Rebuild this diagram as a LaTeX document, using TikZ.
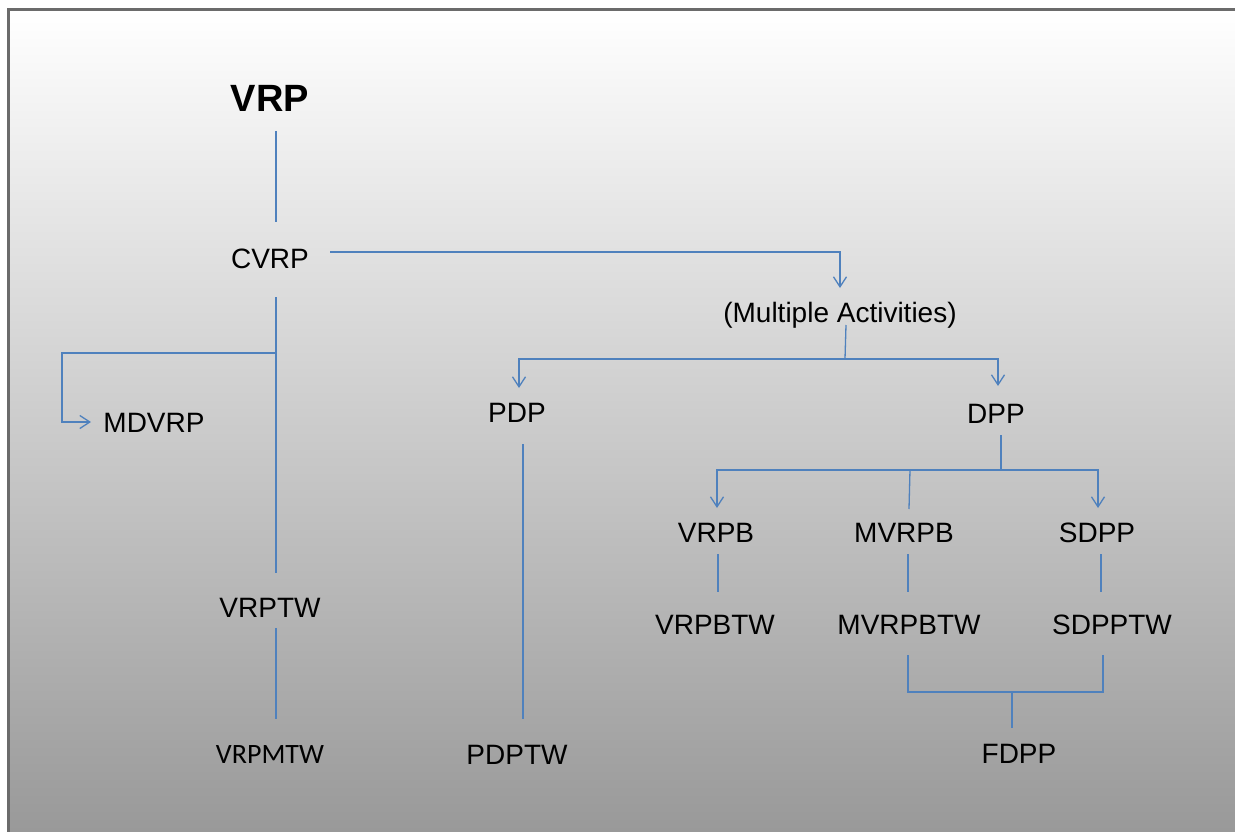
\documentclass[tikz,border=0pt]{standalone}
\usepackage{fontspec}
\setmainfont{Liberation Sans}
\newfontfamily\calfont{Carlito}
\usetikzlibrary{arrows.meta,calc}
\definecolor{linkblue}{HTML}{4F81BD}
\definecolor{framegray}{HTML}{6B6B6B}
\definecolor{shadelow}{HTML}{999999}
\definecolor{shademid}{HTML}{D7D7D7}
\tikzset{
  lbl/.style={anchor=base, inner sep=0pt, font=\fontsize{28}{34}\selectfont},
  title/.style={anchor=base, inner sep=0pt, font=\fontsize{38}{44}\selectfont\bfseries},
  small/.style={anchor=base, inner sep=0pt, font=\calfont\fontsize{28}{34}\selectfont},
  link/.style={draw=linkblue, line width=1.3pt},
  arr/.style={link, -{Straight Barb[length=10pt,width=13pt,line width=1.3pt]}}
}
\begin{document}
\begin{tikzpicture}[x=1pt,y=-1pt]
  \useasboundingbox (0,0) rectangle (1235,832);
  \clip (0,0) rectangle (1235,832);
  \fill[white] (0,0) rectangle (1235,832);
  % shaded panel with its frame (right and bottom edges run off the page)
  \shade[top color=white, middle color=shademid, bottom color=shadelow]
    (8.5,10) rectangle (1270,832);
  \draw[framegray, line width=3pt] (8.5,10) rectangle (1270,870);

  % labels
  \node[title] (vrp)     at (270,112) {VRP};
  \node[lbl]   (cvrp)    at (270,268) {CVRP};
  \node[lbl]   (multi)   at (840,322) {(Multiple Activities)};
  \node[lbl]   (mdvrp)   at (154,432) {MDVRP};
  \node[lbl]   (pdp)     at (517,422) {PDP};
  \node[lbl]   (dpp)     at (996,423) {DPP};
  \node[lbl]   (vrptw)   at (270,617) {VRPTW};
  \node[lbl]   (vrpb)    at (716,542) {VRPB};
  \node[lbl]   (mvrpb)   at (904,542) {MVRPB};
  \node[lbl]   (sdpp)    at (1097,542) {SDPP};
  \node[lbl]   (vrpbtw)  at (715,634) {VRPBTW};
  \node[lbl]   (mvrpbtw) at (909,634) {MVRPBTW};
  \node[lbl]   (sdpptw)  at (1112,634) {SDPPTW};
  \node[small] (vrpmtw)  at (270,763) {VRPMTW};
  \node[lbl]   (pdptw)   at (517,764) {PDPTW};
  \node[lbl]   (fdpp)    at (1019,763) {FDPP};

  % junction points
  \coordinate (jcv)  at ($(cvrp.base)+(6,85)$);
  \coordinate (jma)  at ($(multi.base)+(5,37)$);
  \coordinate (jdpp) at ($(dpp.base)+(5,47)$);
  \coordinate (jmv)  at ($(mvrpb.base)+(6,-72)$);
  \coordinate (jfd)  at ($(fdpp.base)+(-7,-71)$);

  % left branch
  \draw[link] ([shift={(6,19)}]vrp.base) -- ([shift={(6,-46)}]cvrp.base);
  \draw[link] ([shift={(6,29)}]cvrp.base) -- ([shift={(6,-44)}]vrptw.base);
  \draw[arr] (jcv) -- ++(-214,0) |- ([shift={(-63,-10)}]mdvrp.base);
  \draw[link] ([shift={(6,11)}]vrptw.base) -- ([shift={(6,-44)}]vrpmtw.base);

  % multiple activities
  \draw[arr] ([shift={(60,-16)}]cvrp.base) -| ([shift={(0,-34)}]multi.base);
  \draw[link] ([shift={(6,3)}]multi.base) -- (jma);
  \draw[arr] (jma) -| ([shift={(2,-34)}]pdp.base);
  \draw[arr] (jma) -| ([shift={(2,-37)}]dpp.base);
  \draw[link] ([shift={(6,22)}]pdp.base) -- ([shift={(6,-45)}]pdptw.base);

  % DPP family
  \draw[link] ([shift={(5,12)}]dpp.base) -- (jdpp);
  \draw[arr] (jdpp) -| ([shift={(1,-34)}]vrpb.base);
  \draw[arr] (jdpp) -| ([shift={(1,-34)}]sdpp.base);
  \draw[link] (jmv) -- ([shift={(5,-33)}]mvrpb.base);
  \draw[link] ([shift={(2,12)}]vrpb.base) -- ([shift={(3,-42)}]vrpbtw.base);
  \draw[link] ([shift={(4,12)}]mvrpb.base) -- ([shift={(-1,-42)}]mvrpbtw.base);
  \draw[link] ([shift={(4,12)}]sdpp.base) -- ([shift={(-11,-42)}]sdpptw.base);

  % merge into FDPP
  \draw[link] ([shift={(-1,21)}]mvrpbtw.base) |- (jfd);
  \draw[link] ([shift={(-9,21)}]sdpptw.base) |- (jfd);
  \draw[link] (jfd) -- ([shift={(-7,-35)}]fdpp.base);
\end{tikzpicture}
\end{document}
